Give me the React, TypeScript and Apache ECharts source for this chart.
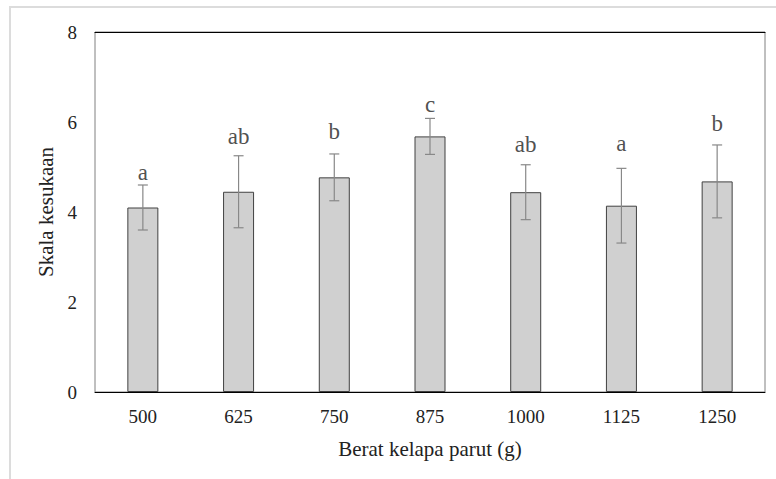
import React, { useEffect, useRef } from "react";
import * as echarts from "echarts";

const categories = ["500", "625", "750", "875", "1000", "1125", "1250"];
const means = [4.1, 4.45, 4.77, 5.68, 4.44, 4.14, 4.68];
const errors = [0.5, 0.8, 0.52, 0.4, 0.61, 0.83, 0.81];
const letters = ["a", "ab", "b", "c", "ab", "a", "b"];
const letterLevels = [4.87, 5.67, 5.78, 6.38, 5.49, 5.53, 5.97];
const yTicks = [0, 2, 4, 6, 8];

const FONT = "Liberation Serif";

export default function App() {
  const ref = useRef<HTMLDivElement>(null);
  useEffect(() => {
    if (!ref.current) return;
    const chart = echarts.init(ref.current, undefined, { renderer: "svg" });
    const errData = categories.map((_, i) => [i, means[i] - errors[i], means[i] + errors[i]]);
    const labelData = categories.map((_, i) => [i, letterLevels[i]]);
    chart.setOption({
      animation: false,
      backgroundColor: "#ffffff",
      textStyle: { fontFamily: FONT },
      graphic: [
        {
          type: "rect",
          shape: { x: 10, y: 7, width: 800, height: 500 },
          style: { fill: "none", stroke: "#dcdcdc", lineWidth: 2 },
          silent: true,
          z: -10,
        },
      ],
      grid: {
        left: 95,
        right: 11,
        top: 32,
        bottom: 87,
        show: true,
        borderColor: "#808080",
        borderWidth: 1,
      },
      xAxis: [
        {
          type: "category",
          data: categories,
          name: "Berat kelapa parut (g)",
          nameLocation: "middle",
          nameGap: 46,
          nameTextStyle: { fontFamily: FONT, fontSize: 21, color: "#222" },
          axisLine: { show: true, lineStyle: { color: "#000", width: 1 } },
          axisTick: { show: false },
          axisLabel: { fontFamily: FONT, fontSize: 19, color: "#222", margin: 15 },
        },
        {
          type: "category",
          data: categories,
          position: "top",
          axisLine: { show: true, lineStyle: { color: "#000", width: 1 } },
          axisTick: { show: false },
          axisLabel: { show: false },
        },
      ],
      yAxis: {
        type: "value",
        min: yTicks[0],
        max: yTicks[yTicks.length - 1],
        interval: 2,
        name: "Skala kesukaan",
        nameLocation: "middle",
        nameRotate: 90,
        nameGap: 35,
        nameTextStyle: { fontFamily: FONT, fontSize: 21, color: "#222" },
        axisLine: { show: false },
        axisTick: { show: false },
        splitLine: { show: false },
        axisLabel: { fontFamily: FONT, fontSize: 19, color: "#222", margin: 18 },
      },
      series: [
        {
          type: "bar",
          data: means,
          barWidth: 31,
          itemStyle: { color: "#d0d0d0", borderColor: "#404040", borderWidth: 1 },
          z: 2,
        },
        {
          type: "custom",
          data: errData,
          z: 3,
          renderItem: (params: any, api: any) => {
            const x = api.value(0);
            const lo = api.coord([x, api.value(1)]);
            const hi = api.coord([x, api.value(2)]);
            const half = 5;
            const style = { stroke: "#888888", lineWidth: 1.2 };
            return {
              type: "group",
              children: [
                { type: "line", shape: { x1: hi[0], y1: hi[1], x2: lo[0], y2: lo[1] }, style },
                { type: "line", shape: { x1: hi[0] - half, y1: hi[1], x2: hi[0] + half, y2: hi[1] }, style },
                { type: "line", shape: { x1: lo[0] - half, y1: lo[1], x2: lo[0] + half, y2: lo[1] }, style },
              ],
            };
          },
        },
        {
          type: "scatter",
          data: labelData,
          symbolSize: 0,
          z: 4,
          label: {
            show: true,
            position: "inside",
            formatter: (p: any) => letters[p.dataIndex],
            fontFamily: FONT,
            fontSize: 23,
            color: "#222",
          },
        },
      ],
    });
    return () => chart.dispose();
  }, []);
  return (
    <div
      ref={ref}
      style={{ position: "fixed", left: 0, top: 0, width: 776, height: 479 }}
    />
  );
}
